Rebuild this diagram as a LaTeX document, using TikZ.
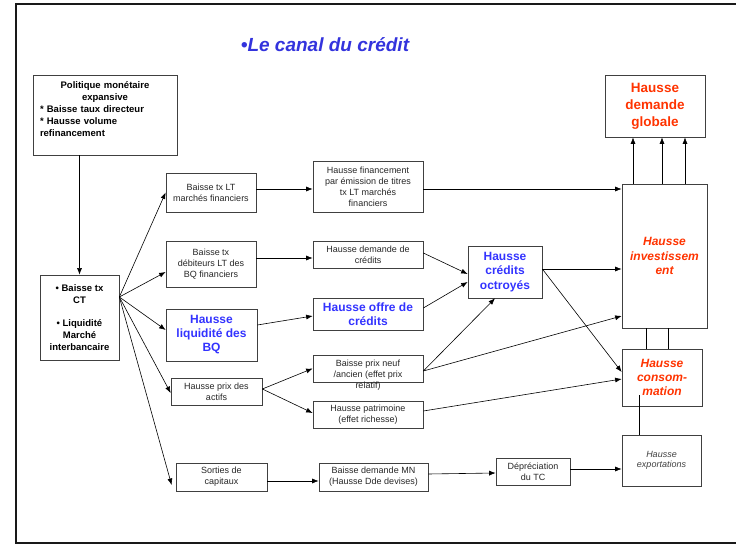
\documentclass[tikz,border=0pt]{standalone}
\usepackage{fontspec}
\setmainfont{Liberation Sans}
\usepackage{xcolor}
\usetikzlibrary{arrows.meta}

\newcommand{\txtpetit}{\fontsize{9}{11}\selectfont}
\newcommand{\txtgras}{\fontsize{9.5}{11.8}\selectfont\bfseries}
\newcommand{\txtbleu}{\fontsize{12}{14}\selectfont\bfseries}
\newcommand{\txtrouge}{\fontsize{12}{14.3}\selectfont\bfseries\itshape}
\definecolor{bleu}{HTML}{3333FF}
\definecolor{rouge}{HTML}{FF3300}
\definecolor{titre}{HTML}{3333DD}

\begin{document}
\begin{tikzpicture}[->, >={Latex[length=6.5pt,width=5pt]}, x=1pt, y=-1pt, semithick, inner sep=1pt,
  box/.style={draw=black!75, line width=0.7pt, align=center, font=\txtpetit, text=black!85},
  boxgras/.style={box, font=\txtgras, text=black},
  boxbleu/.style={box, font=\txtbleu, text=bleu},
  boxrouge/.style={box, font=\txtrouge, text=rouge}]

\useasboundingbox (0,0) rectangle (736,545);
\draw[-, line width=2pt, black!90] (745,4.5) -- (15.5,4.5) -- (15.5,543) -- (745,543);

\node[font=\fontsize{19}{22}\selectfont\bfseries\itshape, text=titre] (titre) at (325,45) {•Le canal du crédit};

% colonne de gauche
\node[boxgras, minimum width=144pt, minimum height=80pt, text width=130pt, align=left] (pol) at (105,115)
  {{\centering Politique monétaire\\expansive\par}\mbox{*} Baisse taux directeur\\\mbox{*} Hausse volume\\refinancement\par\vspace{12pt}};
\node[boxgras, minimum width=79pt, minimum height=85pt] (ct) at (79.5,317.5)
  {• Baisse tx\\CT\\[11.8pt]• Liquidité\\Marché\\interbancaire};

% canaux
\node[box, minimum width=90pt, minimum height=39pt] (ltmf) at (211,192.5) {Baisse tx LT\\marchés financiers};
\node[box, minimum width=110pt, minimum height=51pt] (fin) at (368,186.5) {Hausse financement\\par émission de titres\\tx LT marchés\\financiers};
\node[box, minimum width=90pt, minimum height=46pt] (deb) at (211,264) {Baisse tx\\débiteurs LT des\\BQ financiers};
\node[box, minimum width=110pt, minimum height=27pt] (dem) at (368,254.5) {Hausse demande de\\crédits};
\node[boxbleu, minimum width=91pt, minimum height=52pt] (liq) at (211.5,335) {Hausse\\liquidité des\\BQ};
\node[boxbleu, minimum width=110pt, minimum height=32pt] (off) at (368,314) {Hausse offre de\\crédits};
\node[box, minimum width=91pt, minimum height=27pt] (act) at (216.5,391.5) {Hausse prix des\\actifs};
\node[box, minimum width=110pt, minimum height=27pt] (prix) at (368,368.5)
  {\raisebox{-9pt}[0pt][0pt]{\begin{tabular}{@{}c@{}}Baisse prix neuf\\/ancien (effet prix\\relatif)\end{tabular}}};
\node[box, minimum width=110pt, minimum height=27pt] (pat) at (368,414.5) {Hausse patrimoine\\(effet richesse)};
\node[box, minimum width=91pt, minimum height=28pt] (sort) at (221.5,477) {Sorties de\\capitaux};
\node[box, minimum width=109pt, minimum height=28pt] (mn) at (373.5,477) {Baisse demande MN\\(Hausse Dde devises)};
\node[box, minimum width=74pt, minimum height=27pt] (tc) at (533,471.5) {Dépréciation\\du TC};
\node[boxbleu, minimum width=74pt, minimum height=52pt, font=\fontsize{12}{14.5}\selectfont\bfseries] (oct) at (505,272) {Hausse\\crédits\\octroyés};

% demande
\node[boxrouge, minimum width=100pt, minimum height=62pt, font=\fontsize{13.5}{17}\selectfont\bfseries] (glob) at (655,106) {Hausse\\demande\\globale};
\node[boxrouge, minimum width=85pt, minimum height=144pt] (inv) at (664.5,256) {Hausse\\investissem\\ent};
\node[boxrouge, minimum width=80pt, minimum height=57pt] (cons) at (662,377.5) {Hausse\\consom-\\mation};
\node[box, minimum width=79pt, minimum height=51pt, font=\fontsize{9}{10}\selectfont\itshape, text=black!75] (expo) at (661.5,460.5) {Hausse\\exportations};

\path
(pol.south -| ct.north) edge (ct.north)

([yshift=20.5pt]ct.east) edge (ltmf.west)
([yshift=20.5pt]ct.east) edge ([yshift=-8pt]deb.west)
([yshift=20.5pt]ct.east) edge ([yshift=5pt]liq.west)
([yshift=20.5pt]ct.east) edge ([yshift=-1.5pt]act.west)
([yshift=20.5pt]ct.east) edge ([xshift=-4pt,yshift=-8pt]sort.west)

([yshift=3.5pt]ltmf.east) edge ([yshift=-2.5pt]fin.west)
([yshift=-2.5pt]fin.east) edge ([yshift=67pt]inv.west)

([yshift=6pt]deb.east) edge ([yshift=-3.5pt]dem.west)
([yshift=1.5pt]dem.east) edge ([yshift=-2pt]oct.west)

([yshift=10pt]liq.east) edge ([yshift=-2pt]off.west)
([yshift=6pt]off.east) edge ([yshift=-10pt]oct.west)

([yshift=2.5pt]act.east) edge (prix.west)
([yshift=2.5pt]act.east) edge ([yshift=1.5pt]pat.west)
([yshift=-2.5pt]prix.east) edge ([xshift=-10pt]oct.south)
([yshift=-2.5pt]prix.east) edge ([yshift=-60pt]inv.west)
([yshift=3.5pt]pat.east) edge ([yshift=-1.5pt]cons.west)

([yshift=3pt]oct.east) edge ([yshift=-13pt]inv.west)
([yshift=3pt]oct.east) edge ([yshift=5.5pt]cons.west)

([yshift=-4pt]sort.east) edge ([yshift=-4pt]mn.west)
([yshift=3pt]mn.east) edge ([yshift=-1.5pt]tc.west)
([yshift=2.5pt]tc.east) edge ([yshift=-8.5pt]expo.west);

\foreach \dx in {-31.5,-2.5,20.5} {
  \coordinate (haut) at ([xshift=\dx pt]inv.north);
  \draw (haut) -- (haut |- glob.south);
}
\foreach \dx in {-18.5,3.5} {
  \coordinate (bas) at ([xshift=\dx pt]inv.south);
  \draw[-] (bas) -- (bas |- cons.north);
}
\coordinate (lien) at ([xshift=-23pt,yshift=11pt]cons.south);
\draw[-] (lien) -- (lien |- expo.north);
\end{tikzpicture}
\end{document}
